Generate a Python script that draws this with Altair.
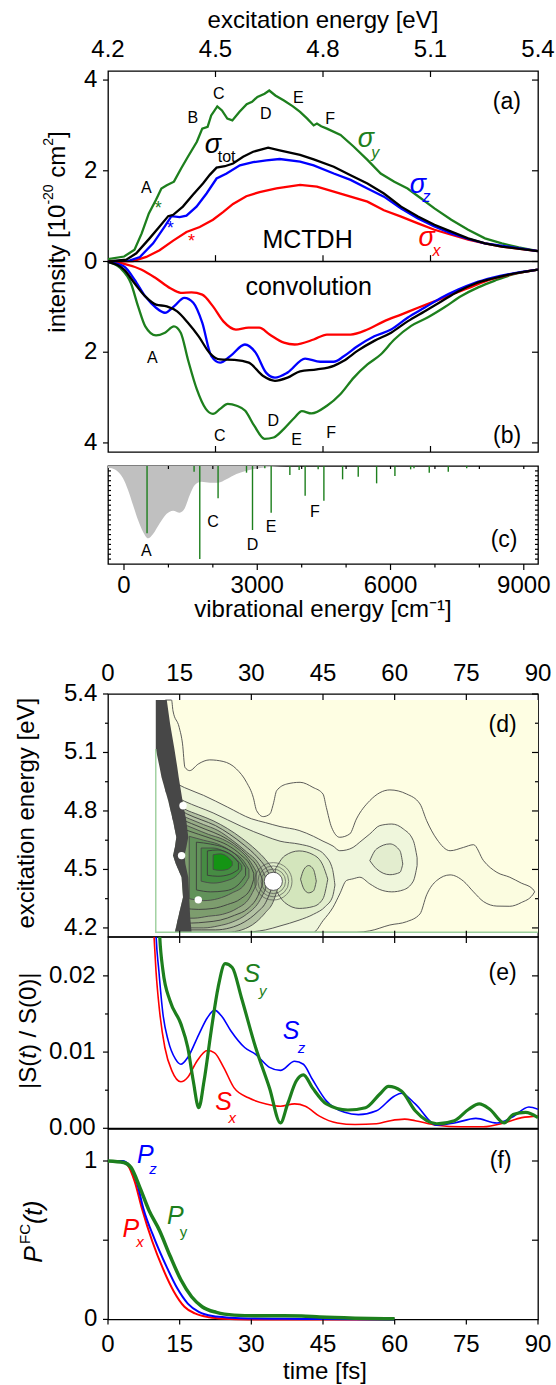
import altair as alt
import pandas as pd

FONT = "Liberation Sans"
GREEN, RED, BLUE, BLACK = "#1d7f1d", "#ff0000", "#0000ff", "#000000"
W = 430
H_AB, H_C, H_D, H_E, H_F = 381, 98, 242.7, 191.3, 190.4

# ---------------- (a) MCTDH cross sections, excitation energy [eV] vs 1e-20 cm^2
sy_E = [4.200, 4.245, 4.274, 4.294, 4.314, 4.334, 4.349, 4.364, 4.384, 4.404, 4.423, 4.448, 4.463, 4.478,
        4.488, 4.505, 4.518, 4.533, 4.547, 4.567, 4.587, 4.602, 4.617, 4.637, 4.650, 4.667, 4.691, 4.716,
        4.736, 4.756, 4.774, 4.783, 4.795, 4.811, 4.849, 4.886, 4.924, 4.961, 4.999, 5.036, 5.074, 5.111,
        5.158, 5.205, 5.252, 5.299, 5.346, 5.400]
sy_v = [0.05, 0.11, 0.26, 0.62, 1.06, 1.36, 1.61, 1.68, 1.76, 2.05, 2.31, 2.64, 2.93, 2.97,
        3.22, 3.42, 3.33, 3.15, 3.11, 3.30, 3.47, 3.52, 3.63, 3.70, 3.77, 3.66, 3.55, 3.42,
        3.30, 3.15, 3.00, 3.04, 2.98, 2.93, 2.79, 2.53, 2.24, 1.94, 1.76, 1.61, 1.39, 1.17,
        0.92, 0.70, 0.51, 0.40, 0.31, 0.23]
stot_E = [4.200, 4.251, 4.279, 4.316, 4.344, 4.368, 4.382, 4.409, 4.437, 4.465, 4.484, 4.503, 4.526, 4.549,
          4.577, 4.605, 4.647, 4.679, 4.736, 4.774, 4.830, 4.877, 4.924, 4.970, 5.018, 5.065, 5.111, 5.158,
          5.205, 5.252, 5.299, 5.400]
stot_v = [0.00, 0.04, 0.18, 0.51, 0.77, 1.00, 1.03, 1.21, 1.47, 1.72, 1.91, 2.07, 2.10, 2.16,
          2.31, 2.42, 2.51, 2.45, 2.35, 2.25, 2.09, 1.90, 1.72, 1.50, 1.21, 0.99, 0.81, 0.66,
          0.51, 0.40, 0.33, 0.23]
sz_E = [4.200, 4.260, 4.289, 4.326, 4.358, 4.377, 4.400, 4.419, 4.447, 4.475, 4.503, 4.531, 4.568, 4.605,
        4.642, 4.679, 4.736, 4.774, 4.830, 4.877, 4.924, 4.970, 5.018, 5.065, 5.111, 5.158, 5.205, 5.252, 5.400]
sz_v = [0.00, 0.02, 0.10, 0.40, 0.77, 1.00, 0.98, 1.01, 1.21, 1.50, 1.83, 1.94, 2.12, 2.19,
        2.23, 2.26, 2.20, 2.12, 1.94, 1.80, 1.61, 1.43, 1.17, 0.95, 0.77, 0.62, 0.50, 0.40, 0.23]
sx_E = [4.200, 4.270, 4.307, 4.344, 4.382, 4.419, 4.456, 4.493, 4.521, 4.549, 4.586, 4.623, 4.670, 4.736,
        4.783, 4.830, 4.877, 4.924, 4.970, 5.018, 5.065, 5.111, 5.158, 5.205, 5.252, 5.299, 5.400]
sx_v = [0.00, 0.01, 0.10, 0.25, 0.46, 0.65, 0.76, 0.92, 1.09, 1.27, 1.44, 1.53, 1.61, 1.69,
        1.65, 1.54, 1.43, 1.32, 1.13, 0.99, 0.84, 0.70, 0.59, 0.48, 0.40, 0.33, 0.23]

# ---------------- (b) convolved spectra (drawn downwards)
cy_E = [4.200, 4.235, 4.264, 4.284, 4.304, 4.334, 4.359, 4.384, 4.403, 4.423, 4.448, 4.473, 4.493, 4.513,
        4.534, 4.559, 4.583, 4.608, 4.637, 4.662, 4.691, 4.721, 4.741, 4.768, 4.811, 4.849, 4.886, 4.924,
        4.961, 4.999, 5.046, 5.093, 5.139, 5.186, 5.233, 5.280, 5.327, 5.400]
cy_v = [0.01, 0.15, 0.48, 0.99, 1.43, 1.63, 1.57, 1.43, 1.57, 2.16, 2.82, 3.25, 3.36, 3.25,
        3.14, 3.18, 3.29, 3.62, 3.91, 3.88, 3.69, 3.44, 3.30, 3.35, 3.18, 2.92, 2.56, 2.27,
        2.05, 1.72, 1.42, 1.23, 1.01, 0.76, 0.57, 0.42, 0.29, 0.18]
ctot_E = [4.200, 4.245, 4.274, 4.304, 4.334, 4.364, 4.393, 4.423, 4.453, 4.483, 4.513, 4.553, 4.593, 4.632,
          4.666, 4.701, 4.736, 4.783, 4.830, 4.858, 4.896, 4.943, 4.990, 5.036, 5.083, 5.130, 5.177, 5.224,
          5.271, 5.318, 5.400]
ctot_v = [0.01, 0.18, 0.48, 0.77, 0.95, 0.99, 1.10, 1.35, 1.65, 2.01, 2.16, 2.17, 2.23, 2.52,
          2.63, 2.56, 2.42, 2.38, 2.30, 2.19, 1.97, 1.75, 1.57, 1.32, 1.10, 0.88, 0.66, 0.49,
          0.38, 0.29, 0.18]
cz_E = [4.200, 4.245, 4.274, 4.304, 4.334, 4.359, 4.384, 4.413, 4.438, 4.463, 4.488, 4.513, 4.542, 4.582,
        4.612, 4.641, 4.666, 4.701, 4.750, 4.792, 4.830, 4.858, 4.896, 4.943, 4.990, 5.036, 5.083, 5.130,
        5.177, 5.224, 5.271, 5.400]
cz_v = [0.01, 0.11, 0.40, 0.77, 1.02, 1.13, 0.99, 0.80, 0.91, 1.35, 2.08, 2.23, 2.08, 1.83,
        2.01, 2.45, 2.56, 2.45, 2.14, 2.21, 2.21, 2.09, 1.87, 1.65, 1.50, 1.24, 1.02, 0.80,
        0.62, 0.47, 0.36, 0.18]
cx_E = [4.200, 4.245, 4.294, 4.334, 4.374, 4.403, 4.433, 4.463, 4.493, 4.522, 4.557, 4.592, 4.622, 4.651,
        4.691, 4.721, 4.774, 4.811, 4.877, 4.924, 4.970, 5.018, 5.065, 5.111, 5.158, 5.205, 5.252, 5.299, 5.400]
cx_v = [0.01, 0.05, 0.18, 0.37, 0.59, 0.69, 0.68, 0.73, 0.99, 1.32, 1.50, 1.46, 1.46, 1.61,
        1.79, 1.83, 1.72, 1.61, 1.61, 1.50, 1.32, 1.17, 1.02, 0.88, 0.73, 0.59, 0.44, 0.33, 0.18]

# ---------------- (c) stick spectrum vs vibrational energy [cm-1] (relative depth)
fc_cm = [-360, -322, -135, -22, 91, 203, 316, 428, 541, 654, 805, 955, 1104, 1255, 1368, 1481, 1594,
         1744, 1932, 2119, 2306, 2532, 2758, 3058, 3358, 3658]
fc_d = [0.02, 0.02, 0.058, 0.126, 0.245, 0.398, 0.551, 0.670, 0.738, 0.694, 0.585, 0.49, 0.456, 0.476,
        0.432, 0.296, 0.194, 0.16, 0.17, 0.17, 0.136, 0.082, 0.048, 0.02, 0.007, 0.0]
stick_cm = [519, 1578, 1706, 2118, 2758, 2893, 3170, 3313, 3734, 3943, 4078, 4371, 4500, 4921, 5273,
            5687, 6099, 6453, 6528, 6872, 7300, 7715]
stick_d = [0.687, 0.058, 0.949, 0.33, 0.068, 0.653, 0.024, 0.476, 0.092, 0.041, 0.303, 0.034, 0.354,
           0.136, 0.109, 0.177, 0.102, 0.034, 0.024, 0.068, 0.058, 0.024]

# ---------------- (d) time-resolved spectrum: contour regions (t [fs], E [eV])
bg_t, bg_E = [10.0, 90.0], [4.178, 5.369]
l1_t = [12.0, 13.3, 13.6, 14.9, 15.6, 16.1, 17.1, 18.9, 21.3, 24.1, 26.9, 29.0, 30.4, 31.1, 32.5, 33.9,
        34.6, 35.3, 37.4, 40.2, 42.9, 45.0, 45.7, 46.8, 48.5, 50.6, 52.0, 54.8, 59.0, 62.5, 65.3, 66.7,
        68.8, 71.6, 74.4, 76.5, 78.6, 81.4, 84.1, 86.5, 88.9, 89.3]
l1_top = [5.369, 5.369, 5.314, 5.229, 5.144, 5.024, 5.007, 5.041, 5.062, 5.054, 5.015, 4.947, 4.870,
          4.802, 4.771, 4.785, 4.836, 4.904, 4.938, 4.947, 4.921, 4.887, 4.818, 4.716, 4.665, 4.682,
          4.759, 4.853, 4.908, 4.887, 4.836, 4.750, 4.656, 4.596, 4.613, 4.627, 4.545, 4.485, 4.460,
          4.430, 4.400, 4.385]
l1_bot = [4.178] * 27 + [4.185, 4.215, 4.232, 4.272, 4.370, 4.443, 4.472, 4.440, 4.385, 4.335, 4.312,
                         4.311, 4.330, 4.370, 4.385]
l2_t = [12.0, 16.0, 20.0, 25.0, 30.0, 33.0, 36.0, 40.0, 43.0, 45.0, 47.1, 48.5, 49.9, 51.3, 52.7, 54.8,
        56.9, 59.4, 61.8, 63.9, 64.7]
l2_top = [4.97, 4.92, 4.88, 4.82, 4.76, 4.74, 4.72, 4.70, 4.67, 4.645, 4.62, 4.596, 4.60, 4.613, 4.64,
          4.682, 4.725, 4.733, 4.708, 4.648, 4.56]
l2_bot = [4.178] * 9 + [4.237, 4.306, 4.374, 4.443, 4.452, 4.460, 4.426, 4.397, 4.385, 4.395, 4.440, 4.520]
lc_t, lc_top, lc_bot = [54.8, 56.2, 59.0, 61.1, 61.7], [4.545, 4.605, 4.631, 4.596, 4.528], \
    [4.545, 4.503, 4.473, 4.485, 4.528]
l3_t = [12.0, 16.0, 22.0, 28.0, 33.0, 36.0, 40.0, 43.0, 45.5, 47.0, 47.5]
l3_top = [4.90, 4.85, 4.79, 4.72, 4.67, 4.645, 4.63, 4.61, 4.57, 4.50, 4.42]
l3_bot = [4.178, 4.178, 4.178, 4.178, 4.19, 4.21, 4.24, 4.27, 4.31, 4.36, 4.42]
l4_t, l4_top, l4_bot = [35, 37, 40, 43, 45, 46], [4.50, 4.57, 4.595, 4.575, 4.52, 4.45], \
    [4.40, 4.33, 4.30, 4.31, 4.35, 4.45]
l5_t, l5_top, l5_bot = [40.3, 41.0, 42.0, 43.0, 43.6], [4.45, 4.50, 4.52, 4.50, 4.44], \
    [4.45, 4.40, 4.38, 4.39, 4.44]
# densely packed levels around the main maximum (filled)
d1_t = [13, 16, 19, 22, 25, 28, 31, 33, 34.5, 35.5]
d1_top = [4.86, 4.81, 4.78, 4.75, 4.71, 4.66, 4.60, 4.55, 4.50, 4.45]
d1_bot = [4.178, 4.178, 4.178, 4.178, 4.178, 4.19, 4.23, 4.28, 4.33, 4.40]
d2_t = [14, 17, 20, 23, 26, 29, 31.5, 33]
d2_top = [4.79, 4.76, 4.73, 4.70, 4.65, 4.59, 4.53, 4.46]
d2_bot = [4.20, 4.20, 4.20, 4.21, 4.23, 4.27, 4.33, 4.40]
d3_t = [15, 18, 21, 24, 27, 29.5, 31]
d3_top = [4.74, 4.71, 4.68, 4.655, 4.61, 4.55, 4.49]
d3_bot = [4.25, 4.25, 4.26, 4.27, 4.30, 4.35, 4.42]
d4_t = [17, 20, 23, 26, 28.5, 29.5]
d4_top = [4.67, 4.65, 4.63, 4.59, 4.54, 4.50]
d4_bot = [4.35, 4.34, 4.35, 4.38, 4.42, 4.46]
d5_t = [19.5, 22, 24.5, 27, 28]
d5_top = [4.61, 4.61, 4.59, 4.55, 4.52]
d5_bot = [4.44, 4.43, 4.44, 4.47, 4.50]
d6_t = [22, 23.5, 25, 26]
d6_top = [4.575, 4.58, 4.565, 4.54]
d6_bot = [4.50, 4.495, 4.50, 4.52]
# intermediate contour lines of the same maximum (outline only)
x1_t = [13.5, 16.5, 19.5, 22.5, 25.5, 28.5, 31.2, 33, 34.2]
x1_top = [4.83, 4.785, 4.755, 4.725, 4.68, 4.625, 4.565, 4.51, 4.45]
x1_bot = [4.19, 4.19, 4.19, 4.19, 4.20, 4.23, 4.28, 4.33, 4.40]
x2_t = [14.5, 17.5, 20.5, 23.5, 26.5, 29.3, 31.3, 32.3]
x2_top = [4.765, 4.735, 4.705, 4.675, 4.63, 4.57, 4.51, 4.45]
x2_bot = [4.225, 4.225, 4.23, 4.24, 4.265, 4.30, 4.36, 4.42]
x3_t = [16, 19, 22, 25, 27.8, 29.8, 30.5]
x3_top = [4.705, 4.68, 4.655, 4.625, 4.575, 4.52, 4.48]
x3_bot = [4.30, 4.295, 4.30, 4.32, 4.35, 4.40, 4.45]
x4_t = [18.5, 21.5, 24.5, 27.2, 28.8]
x4_top = [4.64, 4.63, 4.61, 4.565, 4.51]
x4_bot = [4.395, 4.385, 4.39, 4.42, 4.47]
x5_t = [20.8, 23, 25.5, 27.3]
x5_top = [4.595, 4.60, 4.58, 4.535]
x5_bot = [4.47, 4.465, 4.475, 4.50]
# steep dark band at early times
band_E = [4.178, 4.255, 4.357, 4.460, 4.528, 4.571, 4.614, 4.665, 4.750, 4.853, 4.973, 5.024, 5.118, 5.246, 5.369]
band_l = [14.0, 14.7, 15.7, 15.4, 14.2, 13.6, 14.0, 14.3, 13.6, 12.6, 11.2, 10.8, 10.0, 10.0, 10.0]
band_r = [17.5, 17.2, 17.0, 16.8, 16.2, 16.0, 16.4, 16.8, 16.4, 15.6, 14.8, 14.5, 13.9, 13.0, 12.3]
hole_t = [15.7, 15.4, 18.9, 34.6]
hole_E = [4.827, 4.571, 4.344, 4.439]
edge_t, edge_E = [10.0, 10.0, 90.0], [5.118, 4.178, 4.178]

# ---------------- (e) autocorrelation |S(t)/S(0)|
ex_t = [9.2, 9.6, 10.04, 10.79, 11.9, 13.4, 15.25, 16.7, 18.6, 20.8, 22.3, 24.2, 26.4, 29.4, 33.1, 36.1,
        39.05, 41.3, 44.25, 48.0, 51.7, 56.2, 59.1, 62.1, 64.3, 68.8, 74.0, 78.5, 82.9, 86.6, 90]
ex_v = [0.030, 0.0256, 0.0207, 0.0154, 0.0106, 0.0075, 0.0061, 0.0067, 0.0088, 0.0102, 0.0099, 0.0080,
        0.0053, 0.0040, 0.0032, 0.0029, 0.0032, 0.0029, 0.0016, 0.0007, 0.0005, 0.0006, 0.0010, 0.0012,
        0.0010, 0.0004, 0.0002, 0.0002, 0.0007, 0.0014, 0.0016]
ez_t = [9.8, 10.04, 10.64, 11.5, 12.6, 14.1, 15.25, 16.7, 19.0, 20.8, 22.3, 23.8, 25.7, 28.6, 30.9, 33.8,
        36.1, 39.05, 40.9, 42.8, 45.7, 49.5, 52.4, 56.2, 59.9, 61.4, 64.3, 68.8, 72.5, 77.0, 81.4, 84.4, 88.1, 90]
ez_v = [0.030, 0.0256, 0.0207, 0.0150, 0.0115, 0.0091, 0.0084, 0.0093, 0.0123, 0.0145, 0.0155, 0.0147,
        0.0128, 0.0106, 0.0097, 0.0080, 0.0076, 0.0088, 0.0084, 0.0064, 0.0036, 0.0021, 0.0018, 0.0023,
        0.0042, 0.0046, 0.0032, 0.0004, 0.0007, 0.0013, 0.0007, 0.0014, 0.0028, 0.0025]
ey_t = [10.5, 10.79, 11.5, 13.0, 15.25, 16.7, 17.85, 19.0, 20.1, 21.6, 23.05, 24.5, 26.0, 27.9, 30.9, 33.8,
        36.1, 37.6, 39.4, 40.9, 42.8, 45.7, 50.2, 53.9, 56.9, 58.7, 61.4, 64.3, 68.8, 72.5, 75.5, 77.7,
        79.9, 82.9, 84.8, 87.4, 90]
ey_v = [0.030, 0.0256, 0.0207, 0.0167, 0.0137, 0.0106, 0.0062, 0.0027, 0.0062, 0.0128, 0.0185, 0.0216,
        0.0211, 0.0172, 0.0106, 0.0053, 0.0007, 0.0032, 0.0062, 0.0070, 0.0053, 0.0032, 0.0024, 0.0027,
        0.0045, 0.0055, 0.0049, 0.0023, 0.0006, 0.0010, 0.0025, 0.0032, 0.0025, 0.0007, 0.0018, 0.0021, 0.0014]

# ---------------- (f) Franck-Condon region population
px_t = [0, 2.6, 4.1, 5.6, 7.1, 9.3, 11.5, 13.8, 16.0, 18.2, 21.2, 24.2, 29.4, 60]
px_v = [1.0, 1.0, 0.975, 0.87, 0.70, 0.49, 0.32, 0.175, 0.08, 0.038, 0.013, 0.004, 0.0, 0.0]
pz_t = [0, 3.0, 4.5, 6.0, 7.4, 9.7, 12.3, 14.5, 16.7, 19.0, 21.9, 25.7, 29.4, 36.8, 44.3, 60]
pz_v = [1.0, 1.0, 0.97, 0.87, 0.70, 0.51, 0.33, 0.196, 0.10, 0.048, 0.021, 0.011, 0.006, 0.004, 0.002, 0.0]
py_t = [0, 3.3, 4.8, 6.7, 8.55, 10.8, 13.0, 15.25, 17.5, 19.7, 22.7, 26.4, 30.9, 36.8, 40.5, 44.3, 51.7, 60]
py_v = [1.0, 0.99, 0.96, 0.83, 0.69, 0.56, 0.40, 0.25, 0.143, 0.08, 0.044, 0.027, 0.023, 0.023, 0.021,
        0.015, 0.008, 0.004]

# ---------------- tick positions and their labels
ev_vals, ev_text = [4.2, 4.5, 4.8, 5.1, 5.4], ["4.2", "4.5", "4.8", "5.1", "5.4"]
int_vals, int_text = [-4, -2, 0, 2, 4], ["4", "2", "0", "2", "4"]
cm_vals, cm_text = [0, 3000, 6000, 9000], ["0", "3000", "6000", "9000"]
fs_vals, fs_text = [0, 15, 30, 45, 60, 75, 90], ["0", "15", "30", "45", "60", "75", "90"]
s_vals, s_text = [0, 0.01, 0.02], ["0.00", "0.01", "0.02"]
p_vals, p_text = [0, 1], ["0", "1"]


class Panel:
    """Shared quantitative scales of one plot panel."""

    def __init__(self, xdom, ydom, yrev=False):
        self.xdom, self.ydom, self.yrev = xdom, ydom, yrev

    def xs(self):
        return alt.Scale(domain=self.xdom, nice=False, zero=False)

    def ys(self):
        if self.yrev:
            return alt.Scale(domain=self.ydom, nice=False, zero=False, reverse=True)
        return alt.Scale(domain=self.ydom, nice=False, zero=False)

    def x(self, f):
        return alt.X(f, type="quantitative", scale=self.xs(), axis=None)

    def y(self, f):
        return alt.Y(f, type="quantitative", scale=self.ys(), axis=None)

    def ydatum(self, v):
        return alt.Y(datum=v, type="quantitative", scale=self.ys(), axis=None)


def curve(p, xs, ys, color, width, interp="linear", clip=False, flip=False):
    ch = alt.Chart(pd.DataFrame({"x": xs, "y": ys}))
    f = "y"
    if flip:
        ch = ch.transform_calculate(ny="-datum.y")
        f = "ny"
    return ch.mark_line(color=color, strokeWidth=width, interpolate=interp, clip=clip).encode(
        x=p.x("x"), y=p.y(f))


def labels(p, xs, ys, texts, color=BLACK, size=16, style="normal", flip=False, align="center"):
    ch = alt.Chart(pd.DataFrame({"x": xs, "y": ys, "s": texts}))
    f = "y"
    if flip:
        ch = ch.transform_calculate(ny="-datum.y")
        f = "ny"
    return ch.mark_text(color=color, fontSize=size, fontStyle=style, font=FONT, align=align,
                        baseline="middle").encode(x=p.x("x"), y=p.y(f), text="s:N")


def ptext(s, x, y, size=24, angle=0, style="normal", baseline="middle", align="center"):
    return alt.Chart(pd.DataFrame({"s": [s]})).mark_text(
        fontSize=size, angle=angle, fontStyle=style, baseline=baseline, align=align, color=BLACK, font=FONT
    ).encode(x=alt.value(x), y=alt.value(y), text="s:N")


def vticks(p, vals, y0, y1):
    return alt.Chart(pd.DataFrame({"v": vals})).mark_rule(color=BLACK, strokeWidth=1.2).encode(
        x=p.x("v"), y=alt.value(y0), y2=alt.value(y1))


def hticks(p, vals, x0, x1):
    return alt.Chart(pd.DataFrame({"v": vals})).mark_rule(color=BLACK, strokeWidth=1.2).encode(
        y=p.y("v"), x=alt.value(x0), x2=alt.value(x1))


def xlabels(p, vals, texts, y):
    return alt.Chart(pd.DataFrame({"v": vals, "s": texts})).mark_text(
        fontSize=24, font=FONT, color=BLACK, baseline="alphabetic", align="center").encode(
        x=p.x("v"), y=alt.value(y), text="s:N")


def ylabels(p, vals, texts, x):
    return alt.Chart(pd.DataFrame({"v": vals, "s": texts})).mark_text(
        fontSize=24, font=FONT, color=BLACK, baseline="middle", align="right").encode(
        y=p.y("v"), x=alt.value(x), text="s:N")


def region(p, ts, tops, bots, fill, outline_only=False):
    if outline_only:
        m = alt.Chart(pd.DataFrame({"t": ts, "a": tops, "b": bots})).mark_area(
            fill="white", fillOpacity=0, stroke="#3c3c3c", strokeWidth=0.9, interpolate="monotone")
    else:
        m = alt.Chart(pd.DataFrame({"t": ts, "a": tops, "b": bots})).mark_area(
            fill=fill, stroke="#4a4a4a", strokeWidth=0.9, interpolate="monotone")
    return m.encode(x=p.x("t"), y=p.y("a"), y2="b:Q")


def rings(p, size, filled):
    df = pd.DataFrame({"t": hole_t[3:], "E": hole_E[3:]})
    if filled:
        m = alt.Chart(df).mark_point(filled=True, fill="white", stroke="#4a4a4a", strokeWidth=0.9,
                                     opacity=1, size=size)
    else:
        m = alt.Chart(df).mark_point(filled=False, color="#4a4a4a", strokeWidth=0.9, size=size)
    return m.encode(x=p.x("t"), y=p.y("E"))


def spacer(h):
    return alt.Chart(pd.DataFrame({"a": [0]})).mark_point(opacity=0, size=1).encode(
        x=alt.value(0), y=alt.value(0)).properties(
        width=W, height=h, view=alt.ViewBackground(strokeWidth=0, strokeOpacity=0))


# ======================= (a) + (b)
pab = Panel([4.2, 5.4], [-4.2, 4.2])
ev_ticks = [4.5, 4.8, 5.1]
# y-title pieces (rotated): main text, superscripts
ytitle = [
    ptext("intensity [10", -50, 261.7, angle=270, align="left"),
    ptext("-20", -59, 133.6, size=14, angle=270, align="left"),
    ptext("cm", -50, 106.7, angle=270, align="left"),
    ptext("2", -59, 74.7, size=14, angle=270, align="left"),
    ptext("]", -50, 66.9, angle=270, align="left"),
]
ab = alt.layer(
    alt.Chart(pd.DataFrame({"a": [0]})).mark_point(opacity=0, size=1).encode(
        x=alt.value(-106.8), y=alt.value(-69.5)),
    curve(pab, sy_E, sy_v, GREEN, 2.3),
    curve(pab, sx_E, sx_v, RED, 2.3),
    curve(pab, sz_E, sz_v, BLUE, 2.3),
    curve(pab, stot_E, stot_v, BLACK, 2.3),
    curve(pab, cy_E, cy_v, GREEN, 2.3, "monotone", flip=True),
    curve(pab, cx_E, cx_v, RED, 2.3, "monotone", flip=True),
    curve(pab, cz_E, cz_v, BLUE, 2.3, "monotone", flip=True),
    curve(pab, ctot_E, ctot_v, BLACK, 2.3, "monotone", flip=True),
    alt.Chart(pd.DataFrame({"a": [0]})).mark_rule(color=BLACK, strokeWidth=1.5).encode(
        y=pab.y("a"), x=alt.value(0), x2=alt.value(W)),
    alt.Chart(pd.DataFrame({"v": ev_ticks})).mark_rule(color=BLACK, strokeWidth=1.2).encode(
        x=pab.x("v"), y=pab.ydatum(0), y2=alt.datum(0.14)),
    vticks(pab, ev_ticks, 0, 6),
    vticks(pab, ev_ticks, H_AB, H_AB - 6),
    hticks(pab, int_vals, W, W - 6),
    hticks(pab, int_vals, 0, -5),
    xlabels(pab, ev_vals, ev_text, -13.7),
    ylabels(pab, int_vals, int_text, -10.6),
    labels(pab, [4.307, 4.437, 4.509, 4.640, 4.731, 4.820], [1.63, 3.17, 3.70, 3.26, 3.61, 3.15],
           ["A", "B", "C", "D", "E", "F"]),
    labels(pab, [4.340], [1.15], ["*"], GREEN, 18),
    labels(pab, [4.374], [0.71], ["*"], BLUE, 18),
    labels(pab, [4.433], [0.43], ["*"], RED, 18),
    labels(pab, [4.493], [2.56], ["σ"], BLACK, 27, "italic"),
    labels(pab, [4.531], [2.30], ["tot"], BLACK, 16),
    labels(pab, [4.920], [2.71], ["σ"], GREEN, 27, "italic"),
    labels(pab, [4.946], [2.40], ["y"], GREEN, 16, "italic"),
    labels(pab, [5.065], [1.68], ["σ"], BLUE, 27, "italic"),
    labels(pab, [5.089], [1.43], ["z"], BLUE, 16, "italic"),
    labels(pab, [5.089], [0.51], ["σ"], RED, 27, "italic"),
    labels(pab, [5.117], [0.24], ["x"], RED, 16, "italic"),
    labels(pab, [4.757], [0.48], ["MCTDH"], BLACK, 25),
    labels(pab, [5.313], [3.52], ["(a)"], BLACK, 23),
    labels(pab, [4.760], [0.57], ["convolution"], BLACK, 25, flip=True),
    labels(pab, [4.324, 4.512, 4.661, 4.726, 4.823], [2.12, 3.84, 3.51, 3.93, 3.78],
           ["A", "C", "D", "E", "F"], flip=True),
    labels(pab, [5.314], [3.85], ["(b)"], BLACK, 23, flip=True),
    ptext("excitation energy [eV]", W / 2, -43, baseline="alphabetic"),
    *ytitle,
).properties(width=W, height=H_AB)

# ======================= (c)
pc = Panel([-360, 9320], [0, 1], yrev=True)
c_minor = [round(0.05 * i, 2) for i in range(1, 20)]
c = alt.layer(
    alt.Chart(pd.DataFrame({"x": fc_cm, "d": fc_d})).mark_area(color="#c0c0c0", interpolate="monotone").encode(
        x=pc.x("x"), y=pc.y("d"), y2=alt.datum(0)),
    alt.Chart(pd.DataFrame({"x": stick_cm, "d": stick_d})).mark_rule(color=GREEN, strokeWidth=1.4).encode(
        x=pc.x("x"), y=pc.y("d"), y2=alt.datum(0)),
    vticks(pc, cm_vals, H_C, H_C + 6),
    vticks(pc, [1000, 2000, 4000, 5000, 7000, 8000], H_C, H_C + 3.5),
    vticks(pc, [1000, 2000, 3000, 4000, 5000, 6000, 7000, 8000, 9000], 0, 3),
    hticks(pc, c_minor, 0, 3),
    hticks(pc, c_minor, W, W - 3),
    xlabels(pc, cm_vals, cm_text, 127.3),
    labels(pc, [505, 2006, 2893, 3313, 4297], [0.87, 0.57, 0.81, 0.62, 0.47], ["A", "C", "D", "E", "F"]),
    labels(pc, [8556], [0.755], ["(c)"], BLACK, 23),
    ptext("vibrational energy [cm⁻¹]", W / 2, 151, baseline="alphabetic"),
).properties(width=W, height=H_C)

# ======================= (d)
pd_ = Panel([0, 90], [4.155, 5.4])
t_ticks = [15, 30, 45, 60, 75]
d = alt.layer(
    alt.Chart(pd.DataFrame({"t0": [bg_t[0]], "t1": [bg_t[1]], "e0": [bg_E[0]], "e1": [bg_E[1]]})).mark_rect(
        color="#fefee3").encode(x=pd_.x("t0"), x2="t1:Q", y=pd_.y("e0"), y2="e1:Q"),
    region(pd_, l1_t, l1_top, l1_bot, "#fbfce0"),
    region(pd_, l2_t, l2_top, l2_bot, "#eff6dc"),
    region(pd_, lc_t, lc_top, lc_bot, "#e3edcf"),
    region(pd_, l3_t, l3_top, l3_bot, "#e2eecd"),
    region(pd_, l4_t, l4_top, l4_bot, "#d3e5bc"),
    region(pd_, l5_t, l5_top, l5_bot, "#c3dba9"),
    region(pd_, d1_t, d1_top, d1_bot, "#b3c2a3"),
    region(pd_, x1_t, x1_top, x1_bot, None, outline_only=True),
    region(pd_, d2_t, d2_top, d2_bot, "#98ad87"),
    region(pd_, x2_t, x2_top, x2_bot, None, outline_only=True),
    region(pd_, d3_t, d3_top, d3_bot, "#7d9d6e"),
    region(pd_, x3_t, x3_top, x3_bot, None, outline_only=True),
    region(pd_, d4_t, d4_top, d4_bot, "#62925a"),
    region(pd_, x4_t, x4_top, x4_bot, None, outline_only=True),
    region(pd_, d5_t, d5_top, d5_bot, "#468c43"),
    region(pd_, x5_t, x5_top, x5_bot, None, outline_only=True),
    region(pd_, d6_t, d6_top, d6_bot, "#149414"),
    alt.Chart(pd.DataFrame({"E": band_E, "l": band_l})).mark_area(orient="horizontal", fill="white").encode(
        y=pd_.y("E"), x=pd_.x("l"), x2=alt.datum(9.0)),
    alt.Chart(pd.DataFrame({"E": band_E, "l": band_l, "r": band_r})).mark_area(
        orient="horizontal", fill="#474747").encode(y=pd_.y("E"), x=pd_.x("l"), x2="r:Q"),
    rings(pd_, 1400, False),
    rings(pd_, 950, False),
    rings(pd_, 600, False),
    rings(pd_, 330, True),
    alt.Chart(pd.DataFrame({"t": hole_t[:3], "E": hole_E[:3]})).mark_point(
        filled=True, color="white", opacity=1, size=55).encode(x=pd_.x("t"), y=pd_.y("E")),
    alt.Chart(pd.DataFrame({"t": edge_t, "E": edge_E, "i": [0, 1, 2]})).mark_line(
        color="#9ccf9c", strokeWidth=1.4).encode(x=pd_.x("t"), y=pd_.y("E"), order="i:Q"),
    vticks(pd_, t_ticks, 0, 6),
    vticks(pd_, t_ticks, H_D, H_D - 6),
    hticks(pd_, ev_vals, W, W - 6),
    hticks(pd_, [4.35, 4.65, 4.95, 5.25], W, W - 3),
    hticks(pd_, ev_vals, 0, -5),
    hticks(pd_, [4.35, 4.65, 4.95, 5.25], 0, -3),
    xlabels(pd_, fs_vals, fs_text, -13.3),
    ylabels(pd_, ev_vals, ev_text, -10.6),
    labels(pd_, [82.6], [5.24], ["(d)"], BLACK, 23),
    ptext("excitation energy [eV]", -81, 119.2, angle=270),
).properties(width=W, height=H_D)

# ======================= (e)
pe = Panel([0, 90], [0, 0.0251])
e = alt.layer(
    curve(pe, ex_t, ex_v, RED, 1.6, "monotone", clip=True),
    curve(pe, ez_t, ez_v, BLUE, 1.6, "monotone", clip=True),
    curve(pe, ey_t, ey_v, GREEN, 3.2, "monotone", clip=True),
    vticks(pe, t_ticks, 0, 6),
    hticks(pe, [0.01, 0.02], W, W - 6),
    hticks(pe, [0.005, 0.015], W, W - 3),
    hticks(pe, s_vals, 0, -5),
    hticks(pe, [0.005, 0.015], 0, -3),
    ylabels(pe, s_vals, s_text, -12.4),
    labels(pe, [30.1], [0.0202], ["S"], GREEN, 25, "italic"),
    labels(pe, [32.4], [0.0180], ["y"], GREEN, 15, "italic"),
    labels(pe, [38.3], [0.0128], ["S"], BLUE, 25, "italic"),
    labels(pe, [40.5], [0.0106], ["z"], BLUE, 15, "italic"),
    labels(pe, [24.2], [0.0034], ["S"], RED, 25, "italic"),
    labels(pe, [26.0], [0.0014], ["x"], RED, 15, "italic"),
    labels(pe, [82.6], [0.0204], ["(e)"], BLACK, 23),
    ptext("|S(", -79, 136.9, angle=270),
    ptext("t", -79, 118.5, angle=270, style="italic"),
    ptext(") / S(0)|", -79, 75.3, angle=270),
).properties(width=W, height=H_E)

# ======================= (f)
pf = Panel([0, 90], [0, 1.202])
f = alt.layer(
    curve(pf, px_t, px_v, RED, 2.0, "monotone"),
    curve(pf, pz_t, pz_v, BLUE, 2.0, "monotone"),
    curve(pf, py_t, py_v, GREEN, 3.5, "monotone"),
    hticks(pf, [0.5, 1.0], W, W - 6),
    hticks(pf, [0, 0.5, 1.0], 0, -5),
    vticks(pf, fs_vals, H_F, H_F + 5),
    xlabels(pf, fs_vals, fs_text, 222.7),
    ylabels(pf, p_vals, p_text, -10.6),
    labels(pf, [7.8], [1.04], ["P"], BLUE, 25, "italic"),
    labels(pf, [9.4], [0.95], ["z"], BLUE, 15, "italic"),
    labels(pf, [14.1], [0.65], ["P"], GREEN, 25, "italic"),
    labels(pf, [15.8], [0.55], ["y"], GREEN, 15),
    labels(pf, [4.8], [0.57], ["P"], RED, 25, "italic"),
    labels(pf, [6.7], [0.49], ["x"], RED, 15, "italic"),
    labels(pf, [82.2], [1.0], ["(f)"], BLACK, 23),
    ptext("P", -74, 125.4, angle=270, style="italic", size=25),
    ptext("FC", -83, 105, angle=270, size=15),
    ptext("(t)", -74, 83.2, angle=270, style="italic", size=25),
    ptext("time [fs]", 217, 250.2, baseline="alphabetic"),
).properties(width=W, height=H_F)

chart = alt.vconcat(ab, spacer(14), c, spacer(129.3), d, e, f, spacing=0, bounds="flush").properties(
    padding=0
).configure(font=FONT).configure_view(stroke=BLACK, strokeWidth=1.3)

chart.save("out.html", embed_options={"renderer": "svg", "actions": False})
